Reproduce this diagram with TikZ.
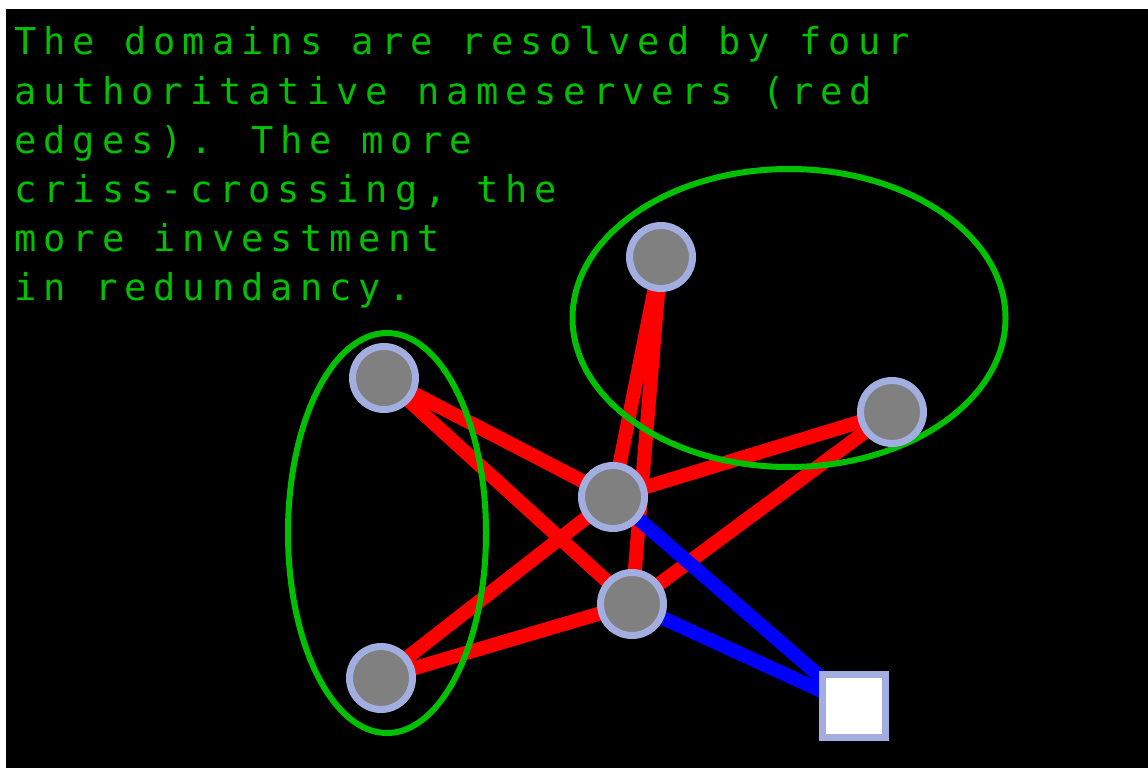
\documentclass[tikz,border=0pt]{standalone}
\usepackage{fontspec}
\usetikzlibrary{shapes.geometric}
\newfontfamily\captionfont{DejaVu Sans Mono}[LetterSpace=19]
\definecolor{nsgreen}{HTML}{00C000}
\definecolor{nsrim}{HTML}{A3AEE0}
\definecolor{nsgray}{HTML}{808080}
\pgfdeclarelayer{backdrop}
\pgfdeclarelayer{links}
\pgfsetlayers{backdrop,links,main}
\tikzset{
  server/.style={circle,draw=nsrim,fill=nsgray,line width=7pt,minimum size=63pt,inner sep=0pt},
  client/.style={rectangle,draw=nsrim,fill=white,line width=7pt,minimum size=63pt,inner sep=0pt},
  nsedge/.style={red,line width=14pt},
  clientedge/.style={blue,line width=14pt},
  zone/.style={ellipse,draw=nsgreen,line width=6pt,inner sep=0pt},
  caption/.style={text=nsgreen,font=\captionfont\fontsize{37}{49}\selectfont,anchor=base west,inner sep=0pt}
}
\begin{document}
\begin{tikzpicture}[x=1pt,y=-1pt]
  \useasboundingbox (0,0) rectangle (1148,768);
  \begin{pgfonlayer}{backdrop}
    \fill[white] (0,0) rectangle (1148,768);
    \fill[black] (6,9) rectangle (1148,768);
  \end{pgfonlayer}
  % caption
  \foreach \ln [count=\i] in {The domains are resolved by four,
      authoritative nameservers (red,
      edges). The more,
      {criss-crossing, the},
      more investment,
      in redundancy.}
    \node[caption] (line\i) at (14,{55+49*(\i-1)}) {\ln};
  % nameservers and client
  \node[server] (nsa) at (384,378) {};
  \node[server] (nsb) at (381,678) {};
  \node[server] (hubc) at (613,497) {};
  \node[server] (hubd) at (632,604) {};
  \node[server] (nse) at (661,257) {};
  \node[server] (nsf) at (892,412) {};
  \node[client] (host) at (854,706) {};
  \begin{pgfonlayer}{links}
    % edges
    \foreach \s in {nsa,nsb,nse,nsf}
      \foreach \h in {hubc,hubd}
        \draw[nsedge] (\s.center) -- (\h.center);
    \draw[clientedge] (hubc.center) -- (host.center);
    \draw[clientedge] (hubd.center) -- (host.center);
    % zones
    \node[zone,minimum width=198pt,minimum height=400pt] (zoneleft) at (387,533) {};
    \node[zone,minimum width=433pt,minimum height=298pt] (zoneright) at (789,318) {};
  \end{pgfonlayer}
\end{tikzpicture}
\end{document}
